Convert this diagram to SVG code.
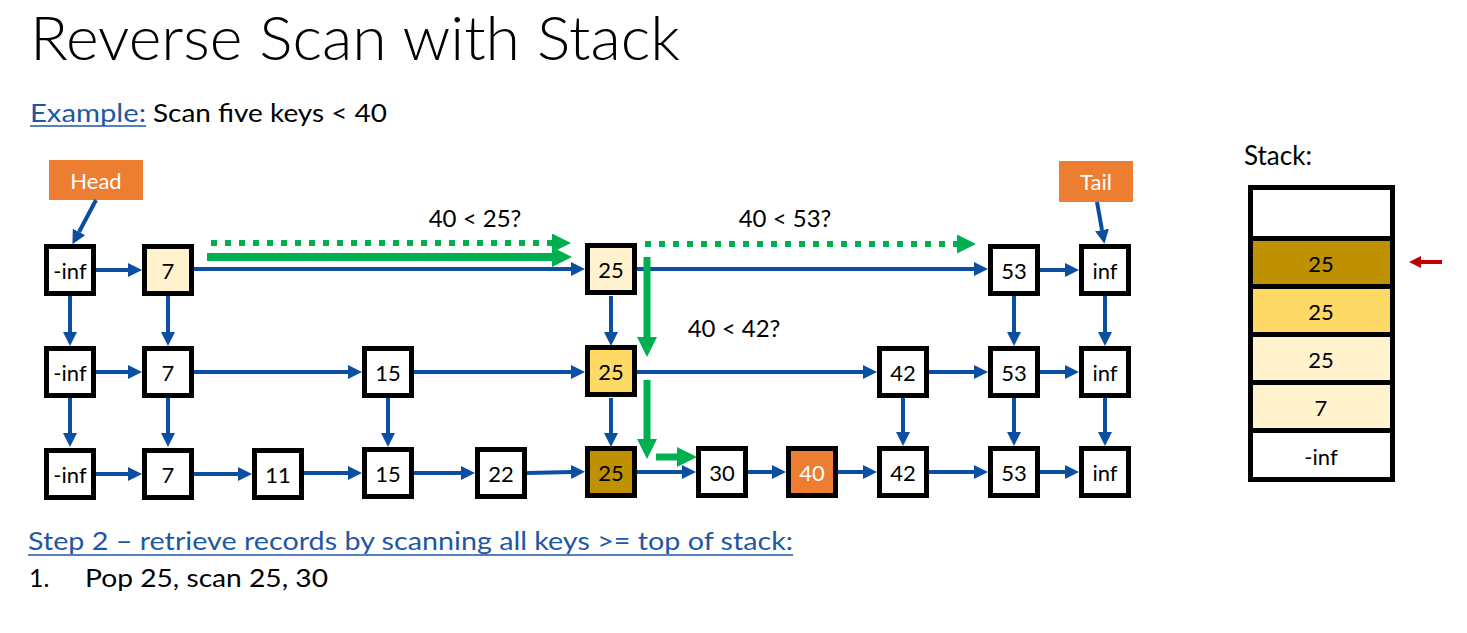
<svg xmlns="http://www.w3.org/2000/svg" width="1467" height="633" viewBox="0 0 1467 633">
<style>
text{font-family:Lato,"Liberation Sans",sans-serif;fill:#000}
.n rect{stroke:#000;stroke-width:5;fill:#fff}
.n text{font-size:22px;text-anchor:middle;dominant-baseline:central}
.c line{stroke:#0B4FA0;stroke-width:4;marker-end:url(#ab)}
.g{stroke:#00B050;stroke-width:8;fill:none;marker-end:url(#ag)}
.gd{stroke:#00B050;stroke-width:6;stroke-dasharray:6 8;fill:none;marker-end:url(#agd)}
.lbl{font-size:24px;text-anchor:middle}
.st rect{stroke:#000;stroke-width:5}
.st text{font-size:22px;text-anchor:middle;dominant-baseline:central}
.blue{fill:#1F57A4}
</style>
<defs>
<marker id="ab" viewBox="0 0 10 10" refX="0" refY="5" markerWidth="14" markerHeight="15" markerUnits="userSpaceOnUse" orient="auto"><path d="M0,0L10,5L0,10z" fill="#0B4FA0"/></marker>
<marker id="ag" viewBox="0 0 10 10" refX="0" refY="5" markerWidth="20" markerHeight="20" markerUnits="userSpaceOnUse" orient="auto"><path d="M0,0L10,5L0,10z" fill="#00B050"/></marker>
<marker id="agd" viewBox="0 0 10 10" refX="0" refY="5" markerWidth="20" markerHeight="19" markerUnits="userSpaceOnUse" orient="auto"><path d="M0,0L10,5L0,10z" fill="#00B050"/></marker>
<marker id="ar" viewBox="0 0 10 10" refX="0" refY="5" markerWidth="15" markerHeight="12" markerUnits="userSpaceOnUse" orient="auto"><path d="M0,0L10,5L0,10z" fill="#C00000"/></marker>
</defs>

<text x="30" y="60" font-size="62" font-weight="300" textLength="650" lengthAdjust="spacingAndGlyphs">Reverse Scan with Stack</text>
<text x="30" y="122" font-size="25" class="blue" textLength="116" lengthAdjust="spacingAndGlyphs">Example:</text>
<line x1="30" y1="126" x2="146" y2="126" stroke="#1F57A4" stroke-width="1.5"/>
<text x="153" y="122" font-size="25" textLength="234" lengthAdjust="spacingAndGlyphs">Scan five keys &lt; 40</text>

<g id="labels">
<text class="lbl" x="475" y="227">40 &lt; 25?</text>
<text class="lbl" x="785" y="227">40 &lt; 53?</text>
<text class="lbl" x="734" y="337">40 &lt; 42?</text>
</g>

<g id="head"><rect x="49" y="160" width="94" height="40" fill="#ED7D31"/><text x="96" y="180" font-size="22" text-anchor="middle" dominant-baseline="central" style="fill:#fff">Head</text></g>
<g id="tail"><rect x="1059" y="161" width="74" height="41" fill="#ED7D31"/><text x="1096" y="181" font-size="22" text-anchor="middle" dominant-baseline="central" style="fill:#fff">Tail</text></g>

<g id="connectors" class="c">
<line x1="96" y1="200" x2="79" y2="232"/>
<line x1="1097" y1="202" x2="1102" y2="230"/>
<line x1="96" y1="270" x2="128" y2="270"/>
<line x1="194" y1="269" x2="571" y2="269"/>
<line x1="637" y1="269" x2="974" y2="269"/>
<line x1="1040" y1="270" x2="1065" y2="270"/>
<line x1="70" y1="296" x2="70" y2="332"/>
<line x1="168" y1="296" x2="168" y2="332"/>
<line x1="611" y1="296" x2="611" y2="332"/>
<line x1="1014" y1="296" x2="1014" y2="332"/>
<line x1="1105" y1="296" x2="1105" y2="332"/>
<line x1="96" y1="372" x2="128" y2="372"/>
<line x1="194" y1="372" x2="348" y2="372"/>
<line x1="414" y1="372" x2="571" y2="372"/>
<line x1="637" y1="372" x2="863" y2="372"/>
<line x1="929" y1="372" x2="974" y2="372"/>
<line x1="1040" y1="372" x2="1065" y2="372"/>
<line x1="70" y1="398" x2="70" y2="433"/>
<line x1="168" y1="398" x2="168" y2="433"/>
<line x1="388" y1="398" x2="388" y2="433"/>
<line x1="611" y1="398" x2="611" y2="433"/>
<line x1="903" y1="398" x2="903" y2="432"/>
<line x1="1014" y1="398" x2="1014" y2="432"/>
<line x1="1105" y1="398" x2="1105" y2="432"/>
<line x1="96" y1="474" x2="128" y2="474"/>
<line x1="194" y1="474" x2="238" y2="474"/>
<line x1="304" y1="473" x2="348" y2="473"/>
<line x1="414" y1="473" x2="461" y2="473"/>
<line x1="527" y1="473" x2="571" y2="472"/>
<line x1="637" y1="472" x2="682" y2="472"/>
<line x1="748" y1="472" x2="772" y2="472"/>
<line x1="838" y1="472" x2="863" y2="472"/>
<line x1="929" y1="472" x2="974" y2="472"/>
<line x1="1040" y1="472" x2="1065" y2="472"/>
</g>

<g id="green">
<line class="gd" x1="211" y1="243" x2="552" y2="243"/>
<line class="g" x1="207" y1="257" x2="552" y2="257"/>
<line class="gd" x1="645" y1="244" x2="957" y2="244"/>
<line class="g" x1="647" y1="257" x2="647" y2="337" style="stroke-width:7"/>
<line class="g" x1="647" y1="380" x2="647" y2="439" style="stroke-width:7"/>
<line class="g" x1="656" y1="457" x2="677" y2="457" style="stroke-width:7"/>
</g>

<g id="n-inf1" class="n"><rect x="46.5" y="246.5" width="47" height="47"/><text x="70" y="270">-inf</text></g>
<g id="n-7a" class="n"><rect x="144.5" y="246.5" width="47" height="47" style="fill:#FFF2CC"/><text x="168" y="270">7</text></g>
<g id="n-25a" class="n"><rect x="587.5" y="245.5" width="47" height="47" style="fill:#FFF2CC"/><text x="611" y="269">25</text></g>
<g id="n-53a" class="n"><rect x="990.5" y="246.5" width="47" height="47"/><text x="1014" y="270">53</text></g>
<g id="n-infa" class="n"><rect x="1081.5" y="246.5" width="47" height="47"/><text x="1105" y="270">inf</text></g>

<g id="n-inf2" class="n"><rect x="46.5" y="348.5" width="47" height="47"/><text x="70" y="372">-inf</text></g>
<g id="n-7b" class="n"><rect x="144.5" y="348.5" width="47" height="47"/><text x="168" y="372">7</text></g>
<g id="n-15b" class="n"><rect x="364.5" y="348.5" width="47" height="47"/><text x="388" y="372">15</text></g>
<g id="n-25b" class="n"><rect x="587.5" y="347.5" width="47" height="47" style="fill:#FFD966"/><text x="611" y="371">25</text></g>
<g id="n-42b" class="n"><rect x="879.5" y="348.5" width="47" height="47"/><text x="903" y="372">42</text></g>
<g id="n-53b" class="n"><rect x="990.5" y="348.5" width="47" height="47"/><text x="1014" y="372">53</text></g>
<g id="n-infb" class="n"><rect x="1081.5" y="348.5" width="47" height="47"/><text x="1105" y="372">inf</text></g>

<g id="n-inf3" class="n"><rect x="46.5" y="450.5" width="47" height="47"/><text x="70" y="474">-inf</text></g>
<g id="n-7c" class="n"><rect x="144.5" y="450.5" width="47" height="47"/><text x="168" y="474">7</text></g>
<g id="n-11c" class="n"><rect x="254.5" y="450.5" width="47" height="47"/><text x="278" y="474">11</text></g>
<g id="n-15c" class="n"><rect x="364.5" y="449.5" width="47" height="47"/><text x="388" y="473">15</text></g>
<g id="n-22c" class="n"><rect x="477.5" y="449.5" width="47" height="47"/><text x="501" y="473">22</text></g>
<g id="n-25c" class="n"><rect x="587.5" y="448.5" width="47" height="47" style="fill:#BF9000"/><text x="611" y="472">25</text></g>
<g id="n-30c" class="n"><rect x="698.5" y="448.5" width="47" height="47"/><text x="722" y="472">30</text></g>
<g id="n-40c" class="n"><rect x="788.5" y="448.5" width="47" height="47" style="fill:#ED7D31"/><text x="812" y="472" style="fill:#fff">40</text></g>
<g id="n-42c" class="n"><rect x="879.5" y="448.5" width="47" height="47"/><text x="903" y="472">42</text></g>
<g id="n-53c" class="n"><rect x="990.5" y="448.5" width="47" height="47"/><text x="1014" y="472">53</text></g>
<g id="n-infc" class="n"><rect x="1081.5" y="448.5" width="47" height="47"/><text x="1105" y="472">inf</text></g>

<text x="1244" y="165" style="font-size:26px">Stack:</text>
<g id="stack" class="st">
<rect x="1250.5" y="187.5" width="142" height="51" fill="#fff"/>
<rect x="1250.5" y="238.5" width="142" height="48" fill="#BF9000"/><text x="1321" y="263">25</text>
<rect x="1250.5" y="286.5" width="142" height="48" fill="#FFD966"/><text x="1321" y="311">25</text>
<rect x="1250.5" y="334.5" width="142" height="48" fill="#FFF2CC"/><text x="1321" y="359">25</text>
<rect x="1250.5" y="382.5" width="142" height="48" fill="#FFF2CC"/><text x="1321" y="407">7</text>
<rect x="1250.5" y="430.5" width="142" height="49" fill="#fff"/><text x="1321" y="456">-inf</text>
</g>
<line x1="1442" y1="262" x2="1421" y2="262" stroke="#C00000" stroke-width="4" marker-end="url(#ar)"/>

<g id="step2">
<text x="28" y="550" font-size="25" class="blue" textLength="765" lengthAdjust="spacingAndGlyphs">Step 2 – retrieve records by scanning all keys &gt;= top of stack:</text>
<line x1="28" y1="555" x2="793" y2="555" stroke="#1F57A4" stroke-width="1.5"/>
<text x="29" y="587" font-size="25">1.</text>
<text x="85" y="587" font-size="25" textLength="243" lengthAdjust="spacingAndGlyphs">Pop 25, scan 25, 30</text>
</g>
</svg>
